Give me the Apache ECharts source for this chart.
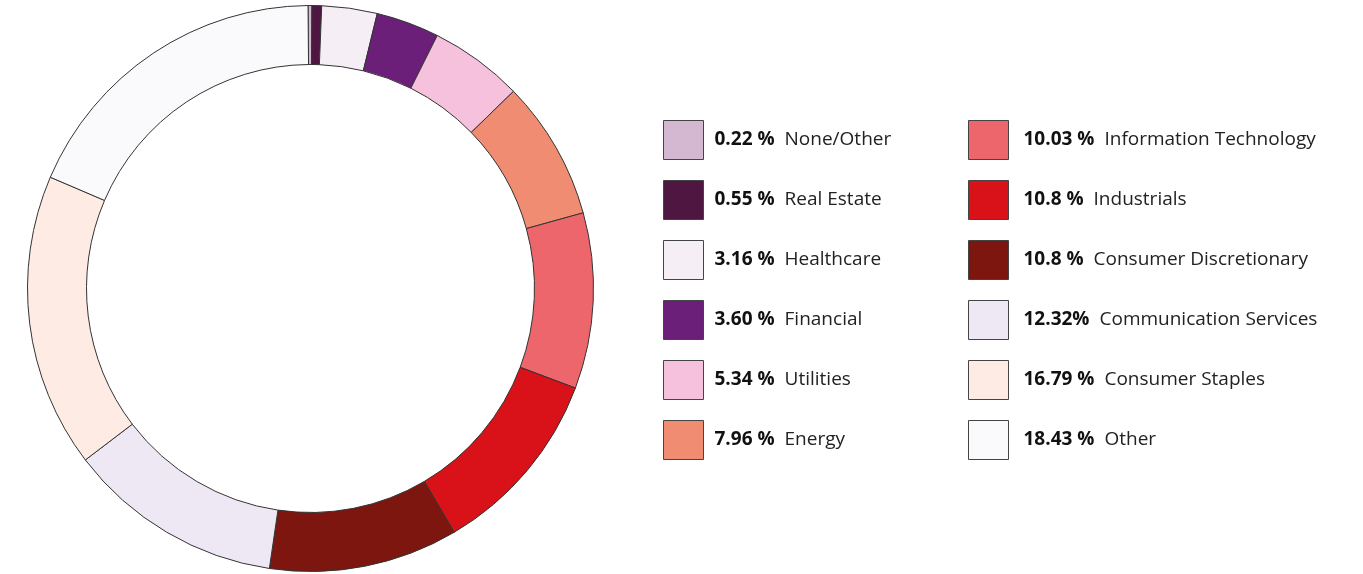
<!DOCTYPE html>
<html>
<head>
<meta charset="utf-8">
<script src="https://cdn.jsdelivr.net/npm/echarts@6/dist/echarts.min.js"></script>
<style>
html, body { margin: 0; padding: 0; background: #fff; }
#chart { width: 1363px; height: 574px; }
</style>
</head>
<body>
<div id="chart"></div>
<script>
// sector weights, clockwise from the top
var sectors = ['None/Other', 'Real Estate', 'Healthcare', 'Financial', 'Utilities', 'Energy',
    'Information Technology', 'Industrials', 'Consumer Discretionary', 'Communication Services',
    'Consumer Staples', 'Other'];
var weights = [0.22, 0.55, 3.16, 3.60, 5.34, 7.96, 10.03, 10.8, 10.8, 12.32, 16.79, 18.43];
var pctLabels = ['0.22 %', '0.55 %', '3.16 %', '3.60 %', '5.34 %', '7.96 %',
    '10.03 %', '10.8 %', '10.8 %', '12.32%', '16.79 %', '18.43 %'];
var palette = ['#d4b8d2', '#4f1642', '#f5eef5', '#6c1f78', '#f6c1dc', '#f08c72',
    '#ec666c', '#d91118', '#7e1610', '#ede8f3', '#fdebe4', '#fafafc'];

var pieData = [];
for (var i = 0; i < sectors.length; i++) {
    pieData.push({ name: sectors[i], value: weights[i], itemStyle: { color: palette[i] } });
}

function legendLabel(name) {
    var idx = sectors.indexOf(name);
    return '{p|' + pctLabels[idx] + '}{n|' + name + '}';
}

function makeLegend(names, left, gap) {
    return {
        orient: 'vertical',
        left: left,
        top: 120,
        padding: 0,
        data: names,
        icon: 'rect',
        itemWidth: 40,
        itemHeight: 39,
        itemGap: 20,
        selectedMode: false,
        itemStyle: { borderColor: '#444', borderWidth: 1 },
        formatter: legendLabel,
        textStyle: {
            fontFamily: 'Open Sans',
            padding: [0, 0, 0, gap],
            rich: {
                p: { fontFamily: 'Open Sans', fontSize: 19, fontWeight: 'bold', color: '#111', padding: [0, 10, 0, 0] },
                n: { fontFamily: 'Open Sans', fontSize: 19, color: '#222' }
            }
        }
    };
}

var chart = echarts.init(document.getElementById('chart'));
chart.setOption({
    animation: false,
    legend: [
        makeLegend(sectors.slice(0, 6), 663, 6),
        makeLegend(sectors.slice(6), 968, 10)
    ],
    series: [{
        type: 'pie',
        center: [310.5, 288.5],
        radius: [224, 283],
        startAngle: 90.5,
        clockwise: true,
        silent: true,
        label: { show: false },
        labelLine: { show: false },
        itemStyle: { borderColor: '#333', borderWidth: 1 },
        data: pieData
    }]
});
</script>
</body>
</html>
